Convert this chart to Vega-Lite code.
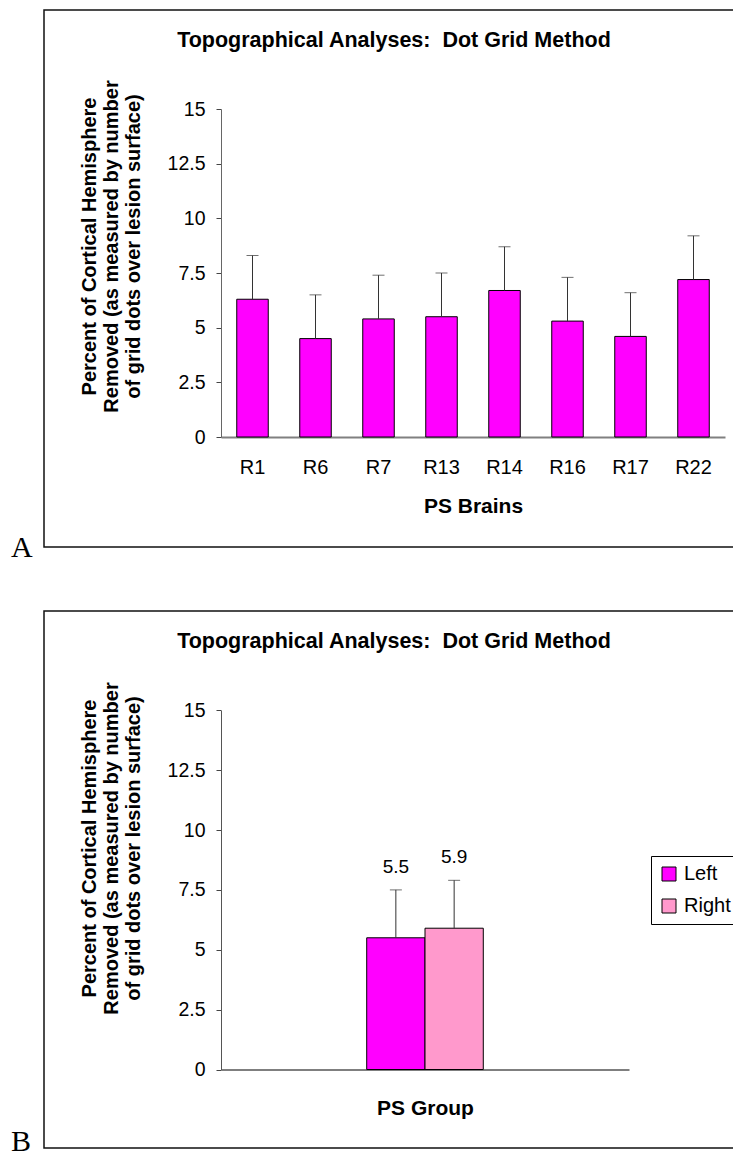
{
  "$schema": "https://vega.github.io/schema/vega-lite/v6.json",
  "background": "white",
  "padding": {"left": 10, "top": 9, "right": 0, "bottom": 0},
  "autosize": {"type": "pad"},
  "bounds": "flush",
  "spacing": 64,
  "config": {
    "font": "Liberation Sans",
    "view": {"stroke": "#111111", "strokeWidth": 1.5},
    "axis": {
      "grid": false,
      "labelColor": "black",
      "titleColor": "black",
      "labelFont": "Liberation Sans",
      "titleFont": "Liberation Sans",
      "titleFontWeight": "bold"
    },
    "title": {"font": "Liberation Sans", "fontWeight": "bold", "fontSize": 21.5, "color": "black"}
  },
  "datasets": {
    "brains": [
      {"brain": "R1", "pct": 6.3, "upper": 8.3},
      {"brain": "R6", "pct": 4.5, "upper": 6.5},
      {"brain": "R7", "pct": 5.4, "upper": 7.4},
      {"brain": "R13", "pct": 5.5, "upper": 7.5},
      {"brain": "R14", "pct": 6.7, "upper": 8.7},
      {"brain": "R16", "pct": 5.3, "upper": 7.3},
      {"brain": "R17", "pct": 4.6, "upper": 6.6},
      {"brain": "R22", "pct": 7.2, "upper": 9.2}
    ],
    "group": [
      {"group": "PS Group", "side": "Left", "pct": 5.5, "upper": 7.5},
      {"group": "PS Group", "side": "Right", "pct": 5.9, "upper": 7.9}
    ]
  },
  "vconcat": [
    {
      "width": 700,
      "height": 537,
      "data": {"name": "brains"},
      "title": {
        "text": "Topographical Analyses: \u00a0Dot Grid Method",
        "orient": "top",
        "anchor": "middle",
        "frame": "group",
        "baseline": "alphabetic",
        "offset": -58.5
      },
      "encoding": {
        "x": {
          "field": "brain",
          "type": "nominal",
          "sort": null,
          "scale": {"range": [177, 681], "paddingInner": 0.5, "paddingOuter": 0.25},
          "axis": {
            "title": "PS Brains",
            "offset": -110,
            "domainColor": "#808080",
            "domainWidth": 2,
            "ticks": false,
            "tickSize": 0,
            "labelAngle": 0,
            "labelPadding": 36,
            "labelBaseline": "alphabetic",
            "labelFontSize": 20,
            "titleFontSize": 21,
            "titleX": 429,
            "titleY": 75,
            "titleAlign": "center",
            "titleBaseline": "alphabetic"
          }
        }
      },
      "layer": [
        {
          "mark": {"type": "bar", "fill": "#FF00FF", "stroke": "black", "strokeWidth": 1},
          "encoding": {
            "y": {
              "field": "pct",
              "type": "quantitative",
              "scale": {"domain": [0, 15], "range": [427, 99], "nice": false, "zero": true},
              "axis": {
                "values": [0, 2.5, 5, 7.5, 10, 12.5, 15],
                "format": ".3~g",
                "offset": -177,
                "domainColor": "#666666",
                "tickColor": "#444444",
                "tickSize": 5,
                "labelPadding": 11,
                "labelFontSize": 19.5,
                "title": ["Percent of Cortical Hemisphere", "Removed (as measured by number", "of grid dots over lesion surface)"],
                "titleFontSize": 20,
                "titleLineHeight": 22,
                "titleAngle": -90,
                "titleAlign": "center",
                "titleBaseline": "middle",
                "titleX": -132,
                "titleY": 236
              }
            }
          }
        },
        {
          "mark": {"type": "rule", "color": "#333333", "strokeWidth": 1},
          "encoding": {
            "y": {"field": "pct", "type": "quantitative"},
            "y2": {"field": "upper"}
          }
        },
        {
          "mark": {"type": "tick", "orient": "horizontal", "size": 12, "thickness": 1, "color": "#333333"},
          "encoding": {"y": {"field": "upper", "type": "quantitative"}}
        },
        {
          "data": {"values": [{"panel": "A"}]},
          "mark": {"type": "text", "font": "Liberation Serif", "fontSize": 30, "align": "left", "baseline": "alphabetic", "color": "black"},
          "encoding": {
            "text": {"field": "panel", "type": "nominal"},
            "x": {"datum": "R1", "bandPosition": -7.167},
            "y": {"datum": -5.5, "type": "quantitative"}
          }
        }
      ]
    },
    {
      "width": 700,
      "height": 537,
      "data": {"name": "group"},
      "title": {
        "text": "Topographical Analyses: \u00a0Dot Grid Method",
        "orient": "top",
        "anchor": "middle",
        "frame": "group",
        "baseline": "alphabetic",
        "offset": -58.5
      },
      "encoding": {
        "x": {
          "field": "group",
          "type": "nominal",
          "scale": {"range": [177, 585], "paddingInner": 0.2, "paddingOuter": 1},
          "axis": {
            "title": "PS Group",
            "labels": false,
            "ticks": false,
            "tickSize": 0,
            "offset": -78.5,
            "domainColor": "#555555",
            "domainWidth": 1.5,
            "titleFontSize": 21,
            "titleX": 381,
            "titleY": 45,
            "titleAlign": "center",
            "titleBaseline": "alphabetic"
          }
        }
      },
      "layer": [
        {
          "mark": {"type": "bar", "stroke": "black", "strokeWidth": 1},
          "encoding": {
            "xOffset": {"field": "side", "type": "nominal", "scale": {"paddingInner": 0, "paddingOuter": 0}},
            "y": {
              "field": "pct",
              "type": "quantitative",
              "scale": {"domain": [0, 15], "range": [458.5, 99.3], "nice": false, "zero": true},
              "axis": {
                "values": [0, 2.5, 5, 7.5, 10, 12.5, 15],
                "format": ".3~g",
                "offset": -177,
                "domainColor": "#555555",
                "tickColor": "#444444",
                "tickSize": 5,
                "labelPadding": 11,
                "labelFontSize": 19.5,
                "title": ["Percent of Cortical Hemisphere", "Removed (as measured by number", "of grid dots over lesion surface)"],
                "titleFontSize": 20,
                "titleLineHeight": 22,
                "titleAngle": -90,
                "titleAlign": "center",
                "titleBaseline": "middle",
                "titleX": -132,
                "titleY": 237
              }
            },
            "color": {
              "field": "side",
              "type": "nominal",
              "scale": {"domain": ["Left", "Right"], "range": ["#FF00FF", "#FF99CC"]},
              "legend": {
                "title": null,
                "orient": "none",
                "legendX": 607,
                "legendY": 846,
                "strokeColor": "black",
                "fillColor": "white",
                "padding": 8,
                "symbolType": "square",
                "symbolSize": 196,
                "symbolStrokeColor": "black",
                "symbolStrokeWidth": 1,
                "symbolOpacity": 1,
                "labelFont": "Liberation Sans",
                "labelFontSize": 20,
                "labelColor": "black",
                "labelOffset": 5,
                "rowPadding": 12
              }
            }
          }
        },
        {
          "mark": {"type": "rule", "color": "#333333", "strokeWidth": 1},
          "encoding": {
            "xOffset": {"field": "side", "type": "nominal"},
            "y": {"field": "pct", "type": "quantitative"},
            "y2": {"field": "upper"}
          }
        },
        {
          "mark": {"type": "tick", "orient": "horizontal", "size": 12, "thickness": 1, "color": "#333333"},
          "encoding": {
            "xOffset": {"field": "side", "type": "nominal"},
            "y": {"field": "upper", "type": "quantitative"}
          }
        },
        {
          "mark": {"type": "text", "fontSize": 19, "baseline": "alphabetic", "dy": -17, "color": "black"},
          "encoding": {
            "xOffset": {"field": "side", "type": "nominal"},
            "y": {"field": "upper", "type": "quantitative"},
            "text": {"field": "pct", "type": "quantitative", "format": "~g"}
          }
        },
        {
          "data": {"values": [{"panel": "B"}]},
          "mark": {"type": "text", "font": "Liberation Serif", "fontSize": 30, "align": "left", "baseline": "alphabetic", "color": "black"},
          "encoding": {
            "text": {"field": "panel", "type": "nominal"},
            "x": {"datum": "PS Group", "bandPosition": -3.051},
            "y": {"datum": -3.4, "type": "quantitative"}
          }
        }
      ]
    }
  ]
}
